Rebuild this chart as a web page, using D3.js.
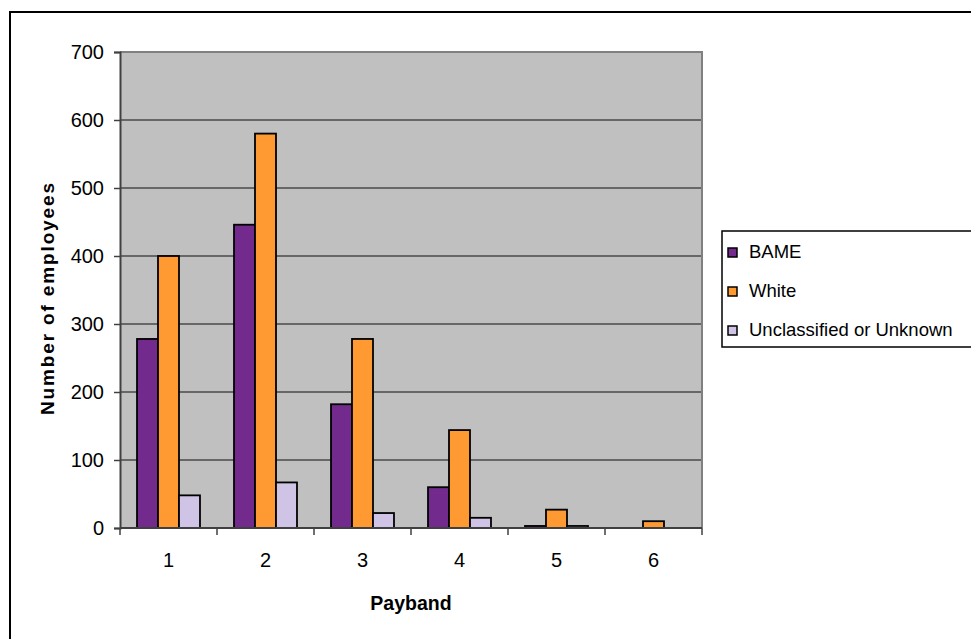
<!DOCTYPE html>
<html>
<head>
<meta charset="utf-8">
<script src="https://cdn.jsdelivr.net/npm/d3@7"></script>
<style>
  html, body { margin: 0; padding: 0; background: #fff; }
  svg { display: block; }
  text { font-family: "Liberation Sans", Arial, sans-serif; fill: #000; }
</style>
</head>
<body>
<svg id="chart" width="971" height="639"></svg>
<script>
// Employees by payband and ethnicity
const paybands = ["1", "2", "3", "4", "5", "6"];
const seriesNames = ["BAME", "White", "Unclassified or Unknown"];
const bame = [278, 446, 182, 60, 3, 0];
const white = [400, 580, 278, 144, 27, 10];
const unknown = [48, 67, 22, 15, 3, 0];
const yTicks = [0, 100, 200, 300, 400, 500, 600, 700];
const colors = ["#722A8C", "#FF9A33", "#D0C4E6"];

const seriesValues = [bame, white, unknown];

const svg = d3.select("#chart");
const plot = { left: 120, right: 702, top: 52, bottom: 528 };

// outer chart frame (runs past the right and bottom edges)
svg.append("rect")
  .attr("x", 10).attr("y", 12)
  .attr("width", 1000).attr("height", 700)
  .attr("fill", "#fff").attr("stroke", "#000").attr("stroke-width", 2);

const x0 = d3.scaleBand().domain(paybands)
  .range([plot.left, plot.right]).paddingInner(0).paddingOuter(0);
const x1 = d3.scaleBand().domain(seriesNames)
  .range([0, x0.bandwidth()]).paddingOuter(0.81).paddingInner(0);
const y = d3.scaleLinear().domain([0, 700]).range([plot.bottom, plot.top]);

// plot area background
svg.append("rect")
  .attr("x", plot.left).attr("y", plot.top)
  .attr("width", plot.right - plot.left).attr("height", plot.bottom - plot.top)
  .attr("fill", "#C0C0C0");

// gridlines
svg.append("g").selectAll("line")
  .data(yTicks.filter(t => t > 0 && t < 700))
  .join("line")
  .attr("x1", plot.left).attr("x2", plot.right)
  .attr("y1", d => y(d)).attr("y2", d => y(d))
  .attr("stroke", "#4a4a4a").attr("stroke-width", 1.3);

// plot border (top and right)
svg.append("path")
  .attr("d", `M${plot.left},${plot.top}H${plot.right}V${plot.bottom}`)
  .attr("fill", "none").attr("stroke", "#808080").attr("stroke-width", 2);

// bars
const groups = svg.append("g").selectAll("g")
  .data(paybands)
  .join("g")
  .attr("transform", d => `translate(${x0(d)},0)`);

groups.selectAll("rect")
  .data((d, i) => seriesNames.map((s, k) => ({ s, k, v: seriesValues[k][i] })))
  .join("rect")
  .filter(d => d.v > 0)
  .attr("x", d => x1(d.s))
  .attr("y", d => y(d.v))
  .attr("width", x1.bandwidth())
  .attr("height", d => y(0) - y(d.v))
  .attr("fill", d => colors[d.k])
  .attr("stroke", "#000").attr("stroke-width", 1.8);

// y axis
const yAxis = d3.axisLeft(y).tickValues(yTicks).tickSize(6).tickPadding(10);
const gy = svg.append("g")
  .attr("transform", `translate(${plot.left},0)`)
  .call(yAxis);
gy.select(".domain").attr("stroke", "#404040").attr("stroke-width", 2);
gy.selectAll(".tick line").attr("stroke", "#404040").attr("stroke-width", 1.5);
gy.selectAll(".tick text")
  .style("font-family", "'Liberation Sans', Arial, sans-serif")
  .style("font-size", "20px").attr("fill", "#000").attr("dy", "0.34em");

// x axis: ticks sit on band boundaries
const gx = svg.append("g")
  .attr("transform", `translate(0,${plot.bottom})`);
gx.append("line")
  .attr("x1", plot.left).attr("x2", plot.right)
  .attr("stroke", "#404040").attr("stroke-width", 2);
const boundaries = paybands.map(p => x0(p)).concat([plot.right]);
gx.selectAll(".xt").data(boundaries).join("line")
  .attr("class", "xt")
  .attr("x1", d => d).attr("x2", d => d)
  .attr("y1", 0).attr("y2", 7)
  .attr("stroke", "#404040").attr("stroke-width", 1.5);
gx.selectAll(".xl").data(paybands).join("text")
  .attr("class", "xl")
  .attr("x", d => x0(d) + x0.bandwidth() / 2)
  .attr("y", 39)
  .attr("text-anchor", "middle")
  .style("font-size", "20px")
  .text(d => d);

// axis titles
svg.append("text")
  .attr("x", 411).attr("y", 610)
  .attr("text-anchor", "middle")
  .style("font-size", "19.5px").style("font-weight", "bold")
  .text("Payband");

svg.append("text")
  .attr("transform", "translate(54,299) rotate(-90)")
  .attr("text-anchor", "middle")
  .attr("textLength", 232).attr("lengthAdjust", "spacing")
  .style("font-size", "19px").style("font-weight", "bold")
  .text("Number of employees");

// legend
const legend = svg.append("g");
legend.append("rect")
  .attr("x", 722).attr("y", 231)
  .attr("width", 300).attr("height", 116)
  .attr("fill", "#fff").attr("stroke", "#000").attr("stroke-width", 1.5);
const items = legend.selectAll(".li").data(seriesNames).join("g")
  .attr("class", "li")
  .attr("transform", (d, i) => `translate(728,${252 + i * 39})`);
items.append("rect")
  .attr("x", 0).attr("y", -4).attr("width", 9).attr("height", 9)
  .attr("fill", (d, i) => colors[i])
  .attr("stroke", "#000").attr("stroke-width", 1.5);
items.append("text")
  .attr("x", 21).attr("y", 6)
  .style("font-size", "18.5px")
  .text(d => d);
</script>
</body>
</html>
